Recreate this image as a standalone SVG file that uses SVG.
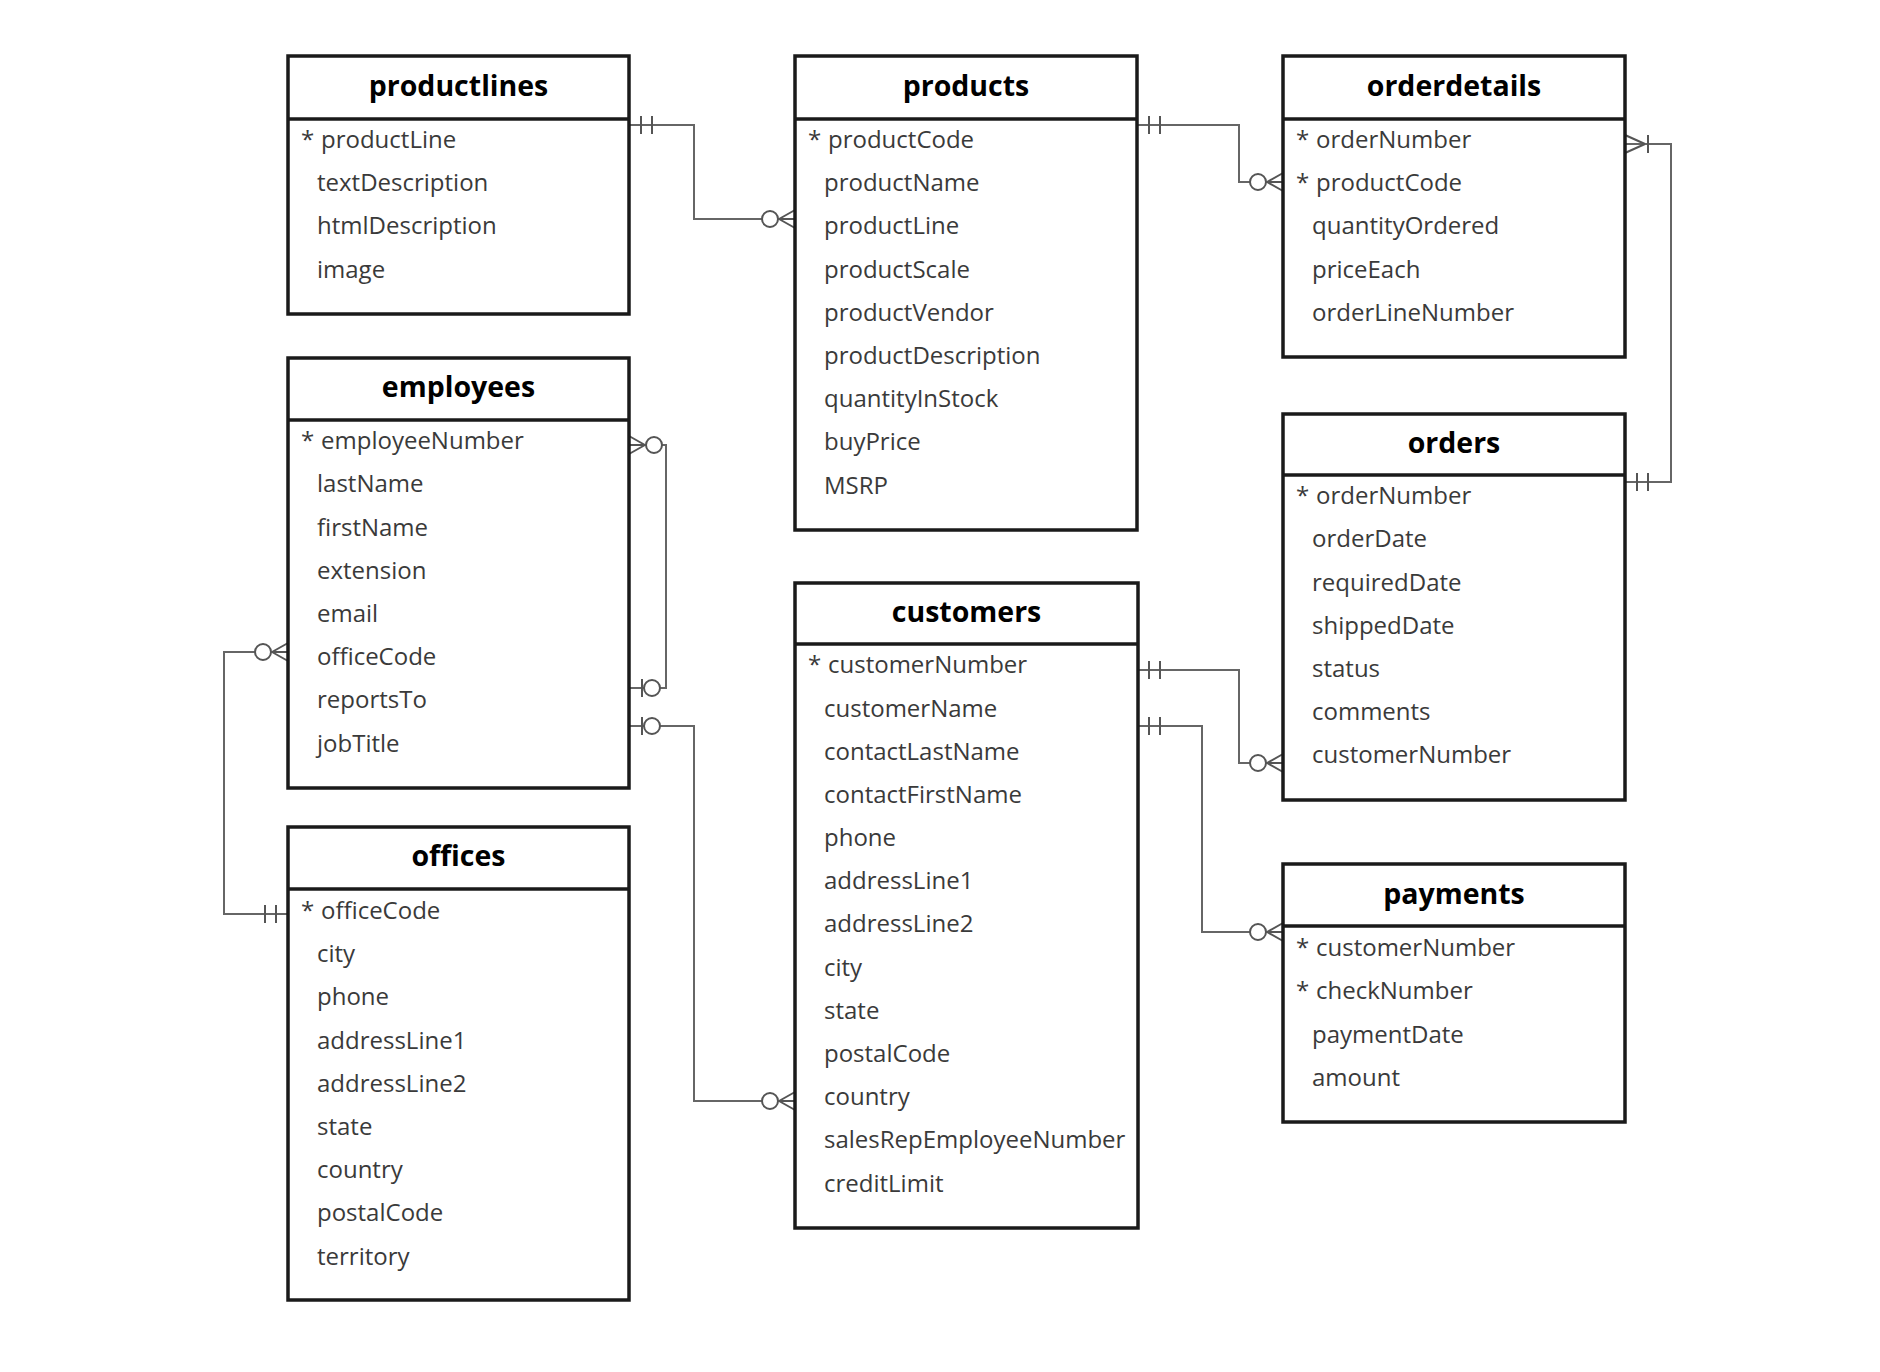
<svg xmlns="http://www.w3.org/2000/svg" xmlns:xlink="http://www.w3.org/1999/xlink" width="1880" height="1372" viewBox="0 0 1880 1372">
<style>
.box{fill:#fff;stroke:#1a1a1a;stroke-width:3.5}
.div{stroke:#1a1a1a;stroke-width:3.5}
.title{font-family:"Open Sans","Noto Sans",sans-serif;font-weight:700;font-size:28.5px;fill:#000;text-anchor:middle}
.f{font-family:"Open Sans","Noto Sans",sans-serif;font-size:24px;fill:#3a3a3a}
.conn{fill:none;stroke:#666;stroke-width:2}
.sym path{fill:none;stroke:#555;stroke-width:2}
.sym circle{fill:#fff;stroke:#555;stroke-width:2}
</style>
<defs>
<g id="zeroMany" class="sym"><path d="M-16,0 L0,-9 M-16,0 L0,0 M-16,0 L0,9"/><circle cx="-25" cy="0" r="8"/></g>
<g id="oneOne" class="sym"><path d="M-12,-9 V9 M-23,-9 V9"/></g>
<g id="zeroOne" class="sym"><path d="M-13,-9 V9"/><circle cx="-23" cy="0" r="8"/></g>
<g id="oneMany" class="sym"><path d="M-20,0 L0,-9 M-20,0 L0,9 M-23,-9 V9"/></g>
</defs>
<rect width="1880" height="1372" fill="#fff"/>

<g id="connectors">
<path class="conn" d="M629,125 H694 V219 H795"/>
<path class="conn" d="M1137,125 H1239 V182 H1283"/>
<path class="conn" d="M1625,144 H1671 V482 H1625"/>
<path class="conn" d="M629,445 H666 V688 H629"/>
<path class="conn" d="M629,726 H694 V1101 H795"/>
<path class="conn" d="M288,914 H224 V652 H288"/>
<path class="conn" d="M1137,670 H1239 V763 H1283"/>
<path class="conn" d="M1137,726 H1202 V932 H1283"/>
<use xlink:href="#oneOne" transform="translate(629,125) scale(-1,1)"/>
<use xlink:href="#zeroMany" transform="translate(795,219)"/>
<use xlink:href="#oneOne" transform="translate(1137,125) scale(-1,1)"/>
<use xlink:href="#zeroMany" transform="translate(1283,182)"/>
<use xlink:href="#oneMany" transform="translate(1625,144) scale(-1,1)"/>
<use xlink:href="#oneOne" transform="translate(1625,482) scale(-1,1)"/>
<use xlink:href="#zeroMany" transform="translate(629,445) scale(-1,1)"/>
<use xlink:href="#zeroOne" transform="translate(629,688) scale(-1,1)"/>
<use xlink:href="#zeroOne" transform="translate(629,726) scale(-1,1)"/>
<use xlink:href="#zeroMany" transform="translate(795,1101)"/>
<use xlink:href="#oneOne" transform="translate(288,914)"/>
<use xlink:href="#zeroMany" transform="translate(288,652)"/>
<use xlink:href="#oneOne" transform="translate(1137,670) scale(-1,1)"/>
<use xlink:href="#zeroMany" transform="translate(1283,763)"/>
<use xlink:href="#oneOne" transform="translate(1137,726) scale(-1,1)"/>
<use xlink:href="#zeroMany" transform="translate(1283,932)"/>
</g>

<g id="productlines">
<rect class="box" x="288" y="56" width="341" height="258"/>
<line class="div" x1="288" y1="119" x2="629" y2="119"/>
<text class="title" x="458.5" y="96">productlines</text>
<text class="f" x="301" y="148">*</text>
<text class="f" x="321" y="148">productLine</text>
<text class="f" x="317" y="191">textDescription</text>
<text class="f" x="317" y="234">htmlDescription</text>
<text class="f" x="317" y="278">image</text>
</g>

<g id="products">
<rect class="box" x="795" y="56" width="342" height="474"/>
<line class="div" x1="795" y1="119" x2="1137" y2="119"/>
<text class="title" x="966" y="96">products</text>
<text class="f" x="808" y="148">*</text>
<text class="f" x="828" y="148">productCode</text>
<text class="f" x="824" y="191">productName</text>
<text class="f" x="824" y="234">productLine</text>
<text class="f" x="824" y="278">productScale</text>
<text class="f" x="824" y="321">productVendor</text>
<text class="f" x="824" y="364">productDescription</text>
<text class="f" x="824" y="407">quantityInStock</text>
<text class="f" x="824" y="450">buyPrice</text>
<text class="f" x="824" y="494">MSRP</text>
</g>

<g id="orderdetails">
<rect class="box" x="1283" y="56" width="342" height="301"/>
<line class="div" x1="1283" y1="119" x2="1625" y2="119"/>
<text class="title" x="1454" y="96">orderdetails</text>
<text class="f" x="1296" y="148">*</text>
<text class="f" x="1316" y="148">orderNumber</text>
<text class="f" x="1296" y="191">*</text>
<text class="f" x="1316" y="191">productCode</text>
<text class="f" x="1312" y="234">quantityOrdered</text>
<text class="f" x="1312" y="278">priceEach</text>
<text class="f" x="1312" y="321">orderLineNumber</text>
</g>

<g id="employees">
<rect class="box" x="288" y="358" width="341" height="430"/>
<line class="div" x1="288" y1="420" x2="629" y2="420"/>
<text class="title" x="458.5" y="397">employees</text>
<text class="f" x="301" y="449">*</text>
<text class="f" x="321" y="449">employeeNumber</text>
<text class="f" x="317" y="492">lastName</text>
<text class="f" x="317" y="536">firstName</text>
<text class="f" x="317" y="579">extension</text>
<text class="f" x="317" y="622">email</text>
<text class="f" x="317" y="665">officeCode</text>
<text class="f" x="317" y="708">reportsTo</text>
<text class="f" x="317" y="752">jobTitle</text>
</g>

<g id="orders">
<rect class="box" x="1283" y="414" width="342" height="386"/>
<line class="div" x1="1283" y1="475" x2="1625" y2="475"/>
<text class="title" x="1454" y="453">orders</text>
<text class="f" x="1296" y="504">*</text>
<text class="f" x="1316" y="504">orderNumber</text>
<text class="f" x="1312" y="547">orderDate</text>
<text class="f" x="1312" y="591">requiredDate</text>
<text class="f" x="1312" y="634">shippedDate</text>
<text class="f" x="1312" y="677">status</text>
<text class="f" x="1312" y="720">comments</text>
<text class="f" x="1312" y="763">customerNumber</text>
</g>

<g id="customers">
<rect class="box" x="795" y="583" width="343" height="645"/>
<line class="div" x1="795" y1="644" x2="1138" y2="644"/>
<text class="title" x="966.5" y="622">customers</text>
<text class="f" x="808" y="673">*</text>
<text class="f" x="828" y="673">customerNumber</text>
<text class="f" x="824" y="717">customerName</text>
<text class="f" x="824" y="760">contactLastName</text>
<text class="f" x="824" y="803">contactFirstName</text>
<text class="f" x="824" y="846">phone</text>
<text class="f" x="824" y="889">addressLine1</text>
<text class="f" x="824" y="932">addressLine2</text>
<text class="f" x="824" y="976">city</text>
<text class="f" x="824" y="1019">state</text>
<text class="f" x="824" y="1062">postalCode</text>
<text class="f" x="824" y="1105">country</text>
<text class="f" x="824" y="1148">salesRepEmployeeNumber</text>
<text class="f" x="824" y="1192">creditLimit</text>
</g>

<g id="offices">
<rect class="box" x="288" y="827" width="341" height="473"/>
<line class="div" x1="288" y1="889" x2="629" y2="889"/>
<text class="title" x="458.5" y="866">offices</text>
<text class="f" x="301" y="919">*</text>
<text class="f" x="321" y="919">officeCode</text>
<text class="f" x="317" y="962">city</text>
<text class="f" x="317" y="1005">phone</text>
<text class="f" x="317" y="1049">addressLine1</text>
<text class="f" x="317" y="1092">addressLine2</text>
<text class="f" x="317" y="1135">state</text>
<text class="f" x="317" y="1178">country</text>
<text class="f" x="317" y="1221">postalCode</text>
<text class="f" x="317" y="1265">territory</text>
</g>

<g id="payments">
<rect class="box" x="1283" y="864" width="342" height="258"/>
<line class="div" x1="1283" y1="926" x2="1625" y2="926"/>
<text class="title" x="1454" y="904">payments</text>
<text class="f" x="1296" y="956">*</text>
<text class="f" x="1316" y="956">customerNumber</text>
<text class="f" x="1296" y="999">*</text>
<text class="f" x="1316" y="999">checkNumber</text>
<text class="f" x="1312" y="1043">paymentDate</text>
<text class="f" x="1312" y="1086">amount</text>
</g>
</svg>
